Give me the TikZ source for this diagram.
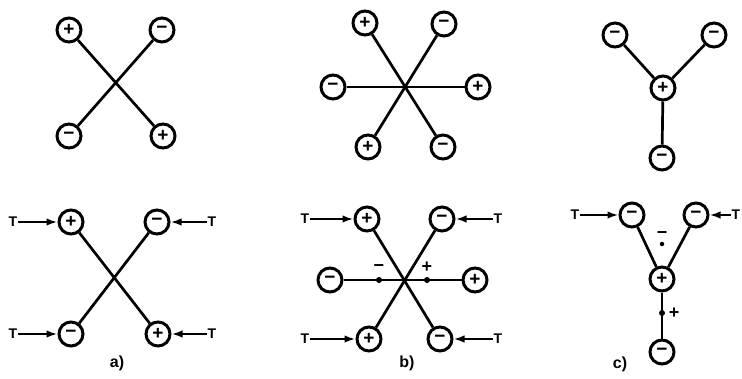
\documentclass[tikz,border=0pt]{standalone}
\usepackage{fontspec}
\setmainfont{Liberation Sans}
\usetikzlibrary{arrows.meta}
\begin{document}
\begin{tikzpicture}[x=1pt,y=-1pt,
  ion/.style={circle,draw,line width=3pt,minimum size=24pt,inner sep=0pt,
    font=\fontsize{19}{19}\selectfont\bfseries},
  bond/.style={line width=2.7pt},
  push/.style={line width=2.3pt,-{Latex[length=11pt,width=7.5pt]}},
  tlab/.style={font=\fontsize{14}{14}\selectfont\bfseries,inner sep=1pt},
  dotm/.style={circle,fill,inner sep=0pt,minimum size=6pt},
  sign/.style={font=\fontsize{18}{18}\selectfont\bfseries,inner sep=0pt},
  panel/.style={font=\fontsize{16}{16}\selectfont\bfseries}]
\useasboundingbox (0,0) rectangle (742,378);

% ---------- a) free quadrupole ----------
\node[ion] (a1) at (69,30) {+};
\node[ion] (a2) at (162,30) {−};
\node[ion] (a3) at (69,136) {−};
\node[ion] (a4) at (163,136) {+};
\draw[bond] (a1) -- (a4);
\draw[bond] (a2) -- (a3);

% ---------- a) under tension ----------
\node[ion] (a5) at (71,222) {+};
\node[ion] (a6) at (157,222) {−};
\node[ion] (a7) at (71,334) {−};
\node[ion] (a8) at (158,334) {+};
\draw[bond] (a5) -- (a8);
\draw[bond] (a6) -- (a7);
\node[tlab] (ta5) at (13,222) {T};
\node[tlab] (ta6) at (212,222) {T};
\node[tlab] (ta7) at (13,334) {T};
\node[tlab] (ta8) at (212,334) {T};
\draw[push] (ta5) -- (a5);
\draw[push] (ta6) -- (a6);
\draw[push] (ta7) -- (a7);
\draw[push] (ta8) -- (a8);
\node[panel] (la) at (117,363) {a)};

% ---------- b) free hexapole ----------
\node[ion] (b1) at (365,23) {+};
\node[ion] (b2) at (444,24) {−};
\node[ion] (b3) at (333,87) {−};
\node[ion] (b4) at (478,87) {+};
\node[ion] (b5) at (368,147) {+};
\node[ion] (b6) at (443,147) {−};
\draw[bond] (b1) -- (b6);
\draw[bond] (b2) -- (b5);
\draw[bond] (b3) -- (b4);

% ---------- b) under tension ----------
\node[ion] (b7) at (367,219) {+};
\node[ion] (b8) at (442,219) {−};
\node[ion] (b9) at (330,280) {−};
\node[ion] (b10) at (475,280) {+};
\node[ion] (b11) at (369,339) {+};
\node[ion] (b12) at (440,339) {−};
\draw[bond] (b7) -- (b12);
\draw[bond] (b8) -- (b11);
\draw[bond] (b9) -- (b10);
\node[dotm] (bd1) at (379,280) {};
\node[dotm] (bd2) at (427,280) {};
\node[sign] (bs1) at (379,268) {−};
\node[sign] (bs2) at (427,267) {+};
\node[tlab] (tb7) at (305,219) {T};
\node[tlab] (tb8) at (498,219) {T};
\node[tlab] (tb11) at (305,339) {T};
\node[tlab] (tb12) at (498,339) {T};
\draw[push] (tb7) -- (b7);
\draw[push] (tb8) -- (b8);
\draw[push] (tb11) -- (b11);
\draw[push] (tb12) -- (b12);
\node[panel] (lb) at (407,363) {b)};

% ---------- c) free tripole ----------
\node[ion] (c1) at (615,35) {−};
\node[ion] (c2) at (714,35) {−};
\node[ion] (c3) at (663,88) {+};
\node[ion] (c4) at (662,158) {−};
\draw[bond] (c1) -- (c3);
\draw[bond] (c2) -- (c3);
\draw[bond] (c3) -- (c4);

% ---------- c) under tension ----------
\node[ion] (c5) at (632,215) {−};
\node[ion] (c6) at (696,215) {−};
\node[ion] (c7) at (662,279) {+};
\node[ion] (c8) at (662,352) {−};
\draw[bond] (c5) -- (c7);
\draw[bond] (c6) -- (c7);
\draw[bond] (c7) -- (c8);
\node[dotm,minimum size=4.5pt] (cd1) at (662,244) {};
\node[sign] (cs1) at (662,235) {−};
\node[dotm] (cd2) at (662,313) {};
\node[sign] (cs2) at (674,313) {+};
\node[tlab] (tc5) at (575,215) {T};
\node[tlab] (tc6) at (736,215) {T};
\draw[push] (tc5) -- (c5);
\draw[push] (tc6) -- (c6);
\node[panel] (lc) at (620,364) {c)};
\end{tikzpicture}
\end{document}
